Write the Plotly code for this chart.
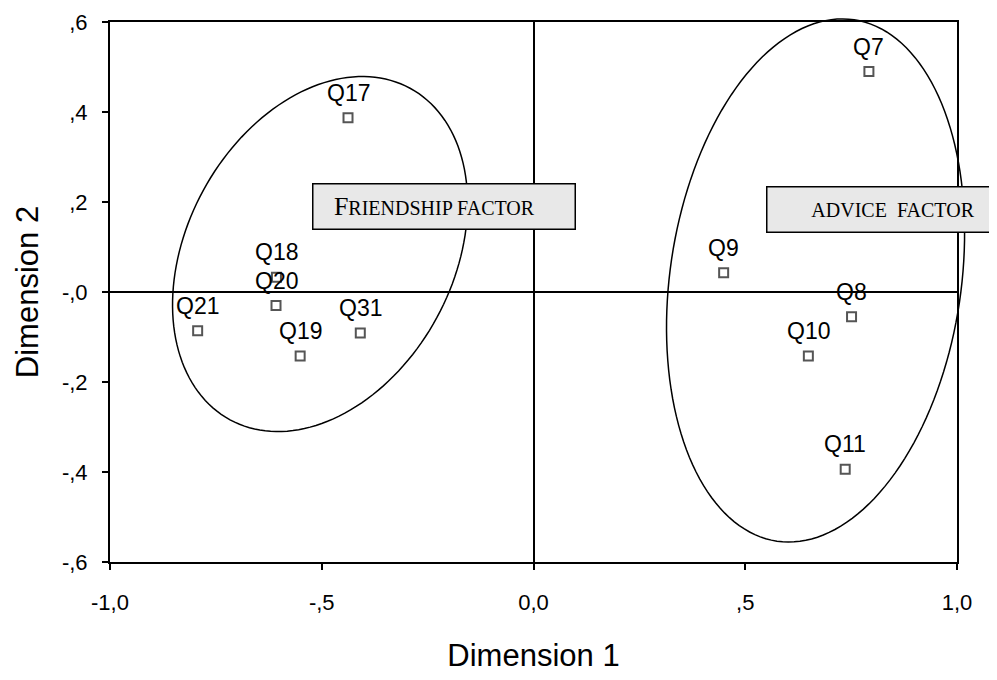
import math
import plotly.graph_objects as go

# ---- data ----
labels = ["Q17", "Q18", "Q20", "Q21", "Q19", "Q31", "Q7", "Q9", "Q8", "Q10", "Q11"]
dim1 = [-0.438, -0.607, -0.608, -0.793, -0.551, -0.409, 0.792, 0.449, 0.751, 0.649, 0.736]
dim2 = [0.387, 0.033, -0.030, -0.086, -0.142, -0.091, 0.490, 0.043, -0.055, -0.142, -0.394]

x_tickvals = [-1.0, -0.5, 0.0, 0.5, 1.0]
x_ticktext = ["-1,0", "-,5", "0,0", ",5", "1,0"]
y_tickvals = [0.6, 0.4, 0.2, 0.0, -0.2, -0.4, -0.6]
y_ticktext = [",6", ",4", ",2", "-,0", "-,2", "-,4", "-,6"]

X_RANGE = [-1.0, 1.0]
Y_RANGE = [-0.6, 0.6]

# ellipses: center, conjugate semi-axis vectors (data units)
friend_ellipse = dict(c=(-0.504, 0.0844), a=(0.2125, 0.3684), b=(-0.276, 0.1410))
advice_ellipse = dict(c=(0.666, 0.0256), a=(0.0912, 0.5793), b=(-0.3399, 0.0474))

friend_box = dict(x=-0.2125, y=0.189)
advice_box = dict(x=0.850, y=0.184)


def to_paper(x, y):
    px = (x - X_RANGE[0]) / (X_RANGE[1] - X_RANGE[0])
    py = (y - Y_RANGE[0]) / (Y_RANGE[1] - Y_RANGE[0])
    return px, py


def ellipse_path(e, n=160):
    cx, cy = e["c"]
    ax, ay = e["a"]
    bx, by = e["b"]
    parts = []
    for i in range(n + 1):
        t = 2 * math.pi * i / n
        x = cx + ax * math.cos(t) + bx * math.sin(t)
        y = cy + ay * math.cos(t) + by * math.sin(t)
        px, py = to_paper(x, y)
        parts.append(("M" if i == 0 else "L") + f"{px:.5f},{py:.5f}")
    return " ".join(parts) + " Z"


fig = go.Figure()
fig.add_trace(go.Scatter(
    x=dim1, y=dim2, mode="markers",
    marker=dict(symbol="square-open", size=9, color="#555555", line=dict(width=2, color="#555555")),
    hoverinfo="text", text=labels, showlegend=False,
))

sans = "Liberation Sans, Arial"
annotations = []
for lab, x, y in zip(labels, dim1, dim2):
    annotations.append(dict(
        x=x, y=y, xref="x", yref="y", text=lab, showarrow=False,
        yshift=25, font=dict(family=sans, size=23, color="black"),
    ))

serif = "Liberation Serif, Times New Roman"
annotations.append(dict(
    x=friend_box["x"], y=friend_box["y"], xref="x", yref="y", showarrow=False,
    text='<span style="font-size:26px">F</span><span style="font-size:20px">RIENDSHIP FACTOR</span>'
         '&nbsp;&nbsp;&nbsp;&nbsp;',
    font=dict(family=serif, size=20, color="black"),
    bgcolor="#e8e8e8", bordercolor="black", borderwidth=1.5, borderpad=0,
    width=261, height=44, align="center", valign="middle",
))
annotations.append(dict(
    x=advice_box["x"], y=advice_box["y"], xref="x", yref="y", showarrow=False,
    text="ADVICE&nbsp; FACTOR",
    font=dict(family=serif, size=20, color="black"),
    bgcolor="#e8e8e8", bordercolor="black", borderwidth=1.5, borderpad=0,
    width=251, height=44, align="center", valign="middle",
))

shapes = []
for e in (friend_ellipse, advice_ellipse):
    shapes.append(dict(type="path", xref="paper", yref="paper", path=ellipse_path(e),
                       line=dict(color="black", width=1.5), layer="above"))

axis_font = dict(family=sans, size=22, color="black")
title_font = dict(family=sans, size=31, color="black")
fig.update_layout(
    width=989, height=672,
    margin=dict(l=102, r=40, t=14, b=118, autoexpand=False),
    paper_bgcolor="white", plot_bgcolor="white",
    annotations=annotations, shapes=shapes,
    xaxis=dict(range=X_RANGE, tickvals=x_tickvals, ticktext=x_ticktext, automargin=False,
               showgrid=False, zeroline=True, zerolinecolor="black", zerolinewidth=1.5,
               showline=True, linecolor="black", linewidth=2, mirror=True,
               ticks="outside", ticklen=6, tickwidth=1.5, tickcolor="black",
               tickfont=axis_font, ticklabelstandoff=14,
               title=dict(text="Dimension 1", font=title_font, standoff=30)),
    yaxis=dict(range=Y_RANGE, tickvals=y_tickvals, ticktext=y_ticktext, automargin=False,
               showgrid=False, zeroline=True, zerolinecolor="black", zerolinewidth=1.5,
               showline=True, linecolor="black", linewidth=2, mirror=True,
               ticks="outside", ticklen=6, tickwidth=1.5, tickcolor="black",
               tickfont=axis_font, ticklabelstandoff=10,
               title=dict(text="Dimension 2", font=title_font, standoff=14)),
)

fig.write_html("out.html")
